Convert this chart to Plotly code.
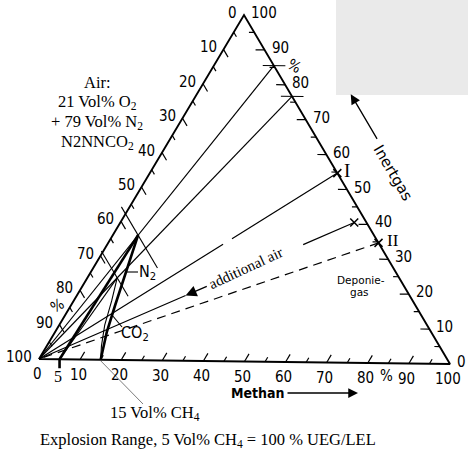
import plotly.graph_objects as go

# ---------------- data ----------------
major_ticks = [0, 10, 20, 30, 40, 50, 60, 70, 80, 90, 100]
minor_ticks = [5, 15, 25, 35, 45, 55, 65, 75, 85, 95]
tick_labels = ["0", "10", "20", "30", "40", "50", "60", "70", "80", "90", "100"]

# compositions given as (methane %, inert gas %); air = 100 - methane - inert
n2_lower = [(5, 0), (6.1, 36.1)]
n2_upper = [(15, 0), (12.5, 8), (10.6, 16), (8.4, 26), (6.1, 36.1)]
co2_lower = [(5, 0), (7.2, 23.7)]
co2_upper = [(7.2, 23.7), (9.2, 17), (11.0, 10), (13.2, 4), (15, 0)]
gas_n2_tangent = (14.5, 85.5)
gas_co2_tangent = (23.3, 76.7)
gas_I = (45.3, 54.7)
gas_X = (56.5, 40.5)
gas_II = (65.3, 34.7)
air_point = (0.0, 0.0)
moc_air_n2 = 57.8
moc_air_co2 = 69.1
lel_ch4 = 5
uel_ch4 = 15

# ---------------- ternary frame (scanned triangle, pixel space) ----------------
VL = (39.0, 359.0)   # 100 % air
VR = (450.0, 364.0)  # 100 % methane
VT = (244.0, 15.0)   # 100 % inert gas


def tern(m, i):
    a = 100.0 - m - i
    x = (a * VL[0] + m * VR[0] + i * VT[0]) / 100.0
    y = (a * VL[1] + m * VR[1] + i * VT[1]) / 100.0
    return x, y


def mix(p, q, t):
    return (p[0] + (q[0] - p[0]) * t, p[1] + (q[1] - p[1]) * t)


def path(points):
    xs, ys = [], []
    for m, i in points:
        x, y = tern(m, i)
        xs.append(x)
        ys.append(y)
    return xs, ys


def multi(segments):
    xs, ys = [], []
    for seg in segments:
        sx, sy = path(seg)
        xs += sx + [None]
        ys += sy + [None]
    return xs, ys


fig = go.Figure()


def add_line(xs, ys, width=1.1, dash="solid", color="black"):
    fig.add_trace(go.Scatter(x=xs, y=ys, mode="lines", hoverinfo="skip",
                             line=dict(color=color, width=width, dash=dash)))


# triangle
add_line(*path([(0, 0), (100, 0), (0, 100), (0, 0)]), width=1.9)

# ticks
segs = []
for v in major_ticks[1:-1] + minor_ticks:
    d = 2.2 if v in major_ticks else 1.3
    segs.append([(v, 0), (v, d)])                      # methane axis
    segs.append([(0, 100 - v), (d, 100 - v - d)])      # air axis
    segs.append([(100 - v, v), (100 - v - d, v)])      # inert axis
add_line(*multi(segs), width=1.2)

# crossbars at the tangent gas compositions
cb = []
for m, i in (gas_n2_tangent, gas_co2_tangent):
    cb.append([(100 - i + 2.8, i), (100 - i - 2.7, i)])
add_line(*multi(cb), width=1.1)

# mixing lines towards air
add_line(*path([gas_n2_tangent, air_point]), width=1.2)
add_line(*path([gas_co2_tangent, air_point]), width=1.2)
add_line(*multi([[gas_I, mix(gas_I, air_point, 0.353)],
                 [mix(gas_I, air_point, 0.383), air_point]]), width=1.2)
add_line(*multi([[gas_X, mix(gas_X, air_point, 0.162)],
                 [mix(gas_X, air_point, 0.535), air_point]]), width=1.2)
add_line(*path([gas_II, air_point]), width=1.2, dash="9px,6px")

# limiting oxygen lines (constant air)
add_line(*multi([[(-2.0, 100 - moc_air_n2 + 2.0), (15.5, 100 - moc_air_n2 - 15.5)],
                 [(-0.5, 100 - moc_air_co2 + 0.5), (12.5, 100 - moc_air_co2 - 12.5)]]),
         width=1.1)

# explosion ranges
add_line(*path(co2_lower), width=1.1)
add_line(*path(co2_upper), width=1.1)
add_line(*path(n2_lower), width=2.6)
add_line(*path(n2_upper), width=2.6)

# 5 % mark below the axis
bx, by = tern(lel_ch4, 0)
add_line([bx, bx], [by, by + 9], width=2.6)

# leader lines
ux, uy = tern(uel_ch4, 0)
add_line([ux, 143], [uy + 1, 404], width=0.7, color="#444")
add_line([127, 138], [272, 272], width=1.1)
add_line([112, 122], [315, 327], width=1.1)

# gas composition marks
mx, my = path([gas_I, gas_X, gas_II])
fig.add_trace(go.Scatter(x=mx, y=my, mode="markers", hoverinfo="skip",
                         marker=dict(symbol="x-thin", size=8, color="black",
                                     line=dict(width=1.5, color="black"))))

# ---------------- texts ----------------
SANS = "DejaVu Sans Condensed, Liberation Sans Narrow, DejaVu Sans, sans-serif"
SERIF = "Liberation Serif, Times New Roman, serif"
ann = []


def txt(x, y, s, size=15, family=SANS, xa="center", angle=0, ya="middle"):
    ann.append(dict(x=x, y=y, xref="x", yref="y", text=s, showarrow=False,
                    xanchor=xa, yanchor=ya, textangle=angle,
                    font=dict(family=family, size=size, color="black")))


for v, lab in zip(major_ticks, tick_labels):
    x, y = tern(v, 0)
    txt(x - 2, y + 15, lab)
    x, y = tern(0, 100 - v)
    txt(x - 5, y - 2, lab, xa="right")
    x, y = tern(100 - v, v)
    txt(x + 5, y - 2, lab, xa="left")

txt(386, 376, "%")
txt(57, 306, "%", angle=-30)
txt(294, 66, "%", angle=30)
txt(58, 376, "5", size=16, family=SERIF)

txt(97, 82, "Air:", size=16.5, family=SERIF)
txt(97, 102, "21 Vol% O<sub>2</sub>", size=16.5, family=SERIF)
txt(97, 122, "+ 79 Vol% N<sub>2</sub>", size=16.5, family=SERIF)
txt(97, 142, "N2NNCO<sub>2</sub>", size=16.5, family=SERIF)

txt(147, 272, "N<sub>2</sub>", size=16)
txt(135, 333, "CO<sub>2</sub>", size=16)
txt(347, 170, "I", size=19, family=SERIF)
txt(393, 240, "II", size=17, family=SERIF)
txt(361, 280, "Deponie-", size=10.5, family="DejaVu Sans")
txt(359, 292, "gas", size=10.5, family="DejaVu Sans")
txt(393, 173, "Inertgas", size=15, family="DejaVu Sans", angle=59.4)
txt(258, 393, "<b>Methan</b>", size=14, family=SANS)
txt(246, 268, "additional air", size=15, family=SERIF, angle=-25)
txt(155, 413, "15 Vol% CH<sub>4</sub>", size=16.5, family=SERIF)
txt(208, 440, "Explosion Range, 5 Vol% CH<sub>4</sub> = 100 % UEG/LEL", size=16.5, family=SERIF)

# arrows
hx, hy = tern(*mix(gas_X, air_point, 0.535))
tx, ty = tern(*mix(gas_X, air_point, 0.463))
ann.append(dict(x=hx, y=hy, ax=tx, ay=ty, xref="x", yref="y", axref="x", ayref="y",
                text="", showarrow=True, arrowhead=2, arrowsize=1.7, arrowwidth=1.3,
                arrowcolor="black"))
ihx, ihy = tern(114.7 - 77.5, 77.5)
itx, ity = tern(114.7 - 64.3, 64.3)
ann.append(dict(x=ihx, y=ihy, ax=itx, ay=ity, xref="x", yref="y", axref="x", ayref="y",
                text="", showarrow=True, arrowhead=2, arrowsize=1.5, arrowwidth=1.3,
                arrowcolor="black"))
ann.append(dict(x=358, y=393, ax=286, ay=393, xref="x", yref="y", axref="x", ayref="y",
                text="", showarrow=True, arrowhead=2, arrowsize=1.5, arrowwidth=1.3,
                arrowcolor="black"))

fig.update_layout(
    width=468, height=452,
    margin=dict(l=0, r=0, t=0, b=0),
    paper_bgcolor="white", plot_bgcolor="white",
    showlegend=False,
    xaxis=dict(range=[0, 468], visible=False, fixedrange=True),
    yaxis=dict(range=[452, 0], visible=False, fixedrange=True),
    annotations=ann,
    shapes=[dict(type="rect", xref="x", yref="y", x0=336, x1=468, y0=0, y1=95,
                 fillcolor="#EAEAEA", line=dict(width=0), layer="below")],
)

fig.write_html("out.html", config={"displayModeBar": False},
               post_script="document.body.style.margin='0';document.body.style.overflow='hidden';")
